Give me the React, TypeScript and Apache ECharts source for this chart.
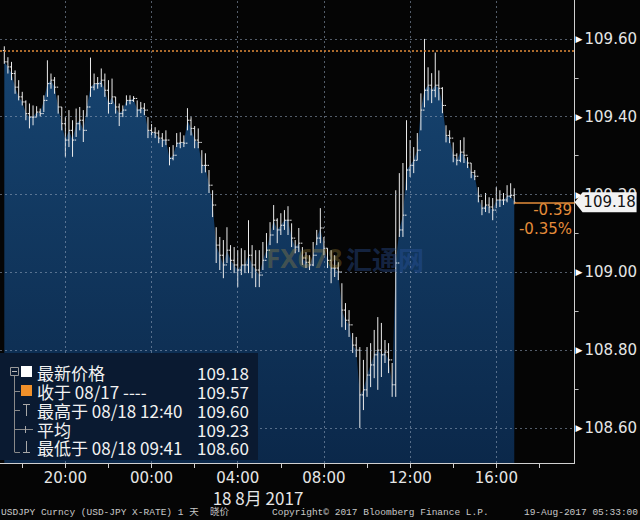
import React, { useEffect, useRef } from "react";
import * as echarts from "echarts";

// USDJPY 10-minute bars, 17 Aug 17:10 -> 18 Aug 16:50 (minutes counted from 17 Aug 17:00)
const FIRST_BAR_MIN = 10;
const BAR_STEP_MIN = 10;
const PREV_CLOSE = 109.57;
const LAST_PRICE = 109.18;
const CHANGE_TEXT = "-0.39";
const CHANGE_PCT_TEXT = "-0.35%";

const barHigh = [
  109.581, 109.553, 109.541, 109.519, 109.494, 109.464, 109.442, 109.434, 109.429, 109.427,
  109.421, 109.455, 109.545, 109.511, 109.502, 109.455, 109.425, 109.399, 109.417, 109.391,
  109.421, 109.425, 109.417, 109.455, 109.552, 109.511, 109.502, 109.524, 109.511, 109.494,
  109.498, 109.451, 109.434, 109.429, 109.455, 109.455,
  109.453, 109.442, 109.438, 109.435, 109.399, 109.381, 109.373, 109.365, 109.358, 109.365,
  109.322, 109.327, 109.358, 109.360, 109.352, 109.422, 109.399, 109.376, 109.370, 109.314,
  109.306, 109.263, 109.211, 109.116, 109.091, 109.083, 109.116, 109.070, 109.065, 109.057,
  109.062, 109.057, 109.134, 109.070, 109.057,
  109.057, 109.078, 109.101, 109.129, 109.173, 109.139, 109.152, 109.160, 109.170, 109.126,
  109.083, 109.114, 109.065, 109.052, 109.044, 109.078, 109.109, 109.165, 109.091, 109.062,
  109.057, 109.044, 109.026, 108.972, 108.921, 108.903, 108.844, 108.834, 108.808, 108.775,
  108.808, 108.818, 108.852, 108.885,
  108.870, 108.826, 108.818, 108.767, 109.211, 109.255, 109.281, 109.391, 109.340, 109.322,
  109.358, 109.460, 109.600, 109.527, 109.512, 109.565, 109.519, 109.476, 109.378, 109.365,
  109.334, 109.306, 109.340, 109.347, 109.296, 109.281, 109.263, 109.219, 109.186, 109.204,
  109.193, 109.191, 109.219, 109.211, 109.204, 109.224, 109.229, 109.216,
];

const barLow = [
  109.536, 109.511, 109.494, 109.459, 109.442, 109.429, 109.391, 109.370, 109.378, 109.399,
  109.401, 109.412, 109.451, 109.472, 109.459, 109.408, 109.365, 109.297, 109.322, 109.297,
  109.348, 109.365, 109.335, 109.399, 109.451, 109.468, 109.472, 109.476, 109.451, 109.408,
  109.434, 109.408, 109.376, 109.399, 109.429, 109.432,
  109.438, 109.399, 109.409, 109.404, 109.345, 109.352, 109.345, 109.332, 109.322, 109.327,
  109.275, 109.288, 109.322, 109.319, 109.322, 109.365, 109.352, 109.319, 109.319, 109.255,
  109.257, 109.204, 109.142, 109.024, 109.006, 108.985, 109.024, 109.006, 108.998, 108.962,
  108.993, 108.998, 108.998, 108.985, 108.962,
  108.962, 109.006, 109.037, 109.070, 109.109, 109.075, 109.096, 109.109, 109.096, 109.065,
  109.049, 109.052, 109.019, 109.011, 109.006, 109.016, 109.070, 109.075, 109.044, 109.011,
  108.972, 108.988, 108.980, 108.859, 108.852, 108.834, 108.793, 108.782, 108.600, 108.646,
  108.680, 108.705, 108.728, 108.698,
  108.731, 108.767, 108.741, 108.680, 108.680, 109.091, 109.091, 109.211, 109.245, 109.255,
  109.288, 109.365, 109.424, 109.442, 109.435, 109.450, 109.442, 109.409, 109.334, 109.332,
  109.283, 109.275, 109.283, 109.281, 109.268, 109.242, 109.237, 109.180, 109.147, 109.155,
  109.152, 109.134, 109.165, 109.168, 109.173, 109.180, 109.191, 109.175,
];

const barClose = [
  109.541, 109.528, 109.511, 109.476, 109.451, 109.438, 109.408, 109.399, 109.399, 109.412,
  109.408, 109.442, 109.485, 109.494, 109.476, 109.425, 109.382, 109.340, 109.365, 109.340,
  109.382, 109.391, 109.365, 109.425, 109.476, 109.485, 109.485, 109.494, 109.468, 109.434,
  109.451, 109.425, 109.408, 109.417, 109.442, 109.442,
  109.447, 109.417, 109.422, 109.417, 109.365, 109.360, 109.358, 109.345, 109.340, 109.340,
  109.293, 109.301, 109.332, 109.334, 109.332, 109.391, 109.370, 109.340, 109.334, 109.275,
  109.275, 109.224, 109.173, 109.070, 109.044, 109.019, 109.057, 109.031, 109.019, 109.006,
  109.019, 109.019, 109.044, 109.019, 109.006,
  108.993, 109.031, 109.057, 109.096, 109.134, 109.109, 109.121, 109.134, 109.134, 109.088,
  109.065, 109.075, 109.037, 109.026, 109.019, 109.044, 109.088, 109.114, 109.062, 109.031,
  109.011, 109.011, 109.001, 108.903, 108.877, 108.865, 108.813, 108.800, 108.685, 108.698,
  108.736, 108.762, 108.788, 108.800,
  108.788, 108.795, 108.775, 108.711, 109.024, 109.109, 109.147, 109.263, 109.275, 109.288,
  109.314, 109.417, 109.468, 109.481, 109.468, 109.481, 109.473, 109.429, 109.352, 109.345,
  109.301, 109.288, 109.309, 109.301, 109.281, 109.257, 109.247, 109.196, 109.165, 109.173,
  109.168, 109.160, 109.186, 109.186, 109.186, 109.196, 109.198, 109.180,
];

const X_MIN = -2;
const X_MAX = 1598;
const xLabelValues = [180, 420, 660, 900, 1140, 1380];
const xLabelTexts = ["20:00", "00:00", "04:00", "08:00", "12:00", "16:00"];
const xTickValues = [60, 180, 300, 420, 540, 660, 780, 900, 1020, 1140, 1260, 1380, 1500];
const Y_MIN = 108.51;
const Y_MAX = 109.7;
const yLabelValues = [108.6, 108.8, 109.0, 109.2, 109.4, 109.6];
const yMinorTicks = [108.7, 108.9, 109.1, 109.3, 109.5];

const dateLabel = "18 8月 2017";
const legendLabels = ["最新价格", "收于 08/17 ----", "最高于 08/18 12:40", "平均", "最低于 08/18 09:41"];
const legendValues = ["109.18", "109.57", "109.60", "109.23", "108.60"];
const footerLeft = "USDJPY Curncy (USD-JPY X-RATE) 1 天  晓价";
const footerMid = "Copyright© 2017 Bloomberg Finance L.P.";
const footerRight = "19-Aug-2017 05:33:00";

const ORANGE = "#e48c3a";
const GRID = "rgba(150,165,190,0.55)";
const CJK = '"Noto Sans CJK SC", "Noto Sans", sans-serif';

function txt(text: string, x: number, y: number, font: string, fill: string, align = "left", z = 110, lineHeight?: number) {
  const style: any = { text, font, fill, align, textAlign: align, verticalAlign: "middle", textVerticalAlign: "middle" };
  if (lineHeight) style.lineHeight = lineHeight;
  return { type: "text", z, x, y, style };
}
function ln(x1: number, y1: number, x2: number, y2: number, stroke: string, z = 110) {
  return { type: "line", z, shape: { x1, y1, x2, y2 }, style: { stroke, lineWidth: 1 } };
}

export default function App() {
  const ref = useRef<HTMLDivElement>(null);

  useEffect(() => {
    if (!ref.current) return;
    const chart = echarts.init(ref.current, null, { renderer: "svg" });
    const times = barClose.map((_, i) => FIRST_BAR_MIN + BAR_STEP_MIN * i);
    const bars = barClose.map((c, i) => [times[i], i === 0 ? PREV_CLOSE : barClose[i - 1], c, barLow[i], barHigh[i]]);
    const area = barClose.map((c, i) => [times[i], c]);
    const lastT = times[times.length - 1];

    const rowY = [372, 391, 410, 429, 447];
    const legendGraphics: any[] = [
      { type: "rect", z: 100, shape: { x: 0, y: 353, width: 258, height: 107 }, style: { fill: "#0a1a31" } },
      ln(14.5, 376, 14.5, 452, "#8a8a8a"),
      { type: "rect", z: 110, shape: { x: 10.5, y: 367.5, width: 8, height: 8 }, style: { fill: "#0a1a31", stroke: "#9a9a9a", lineWidth: 1 } },
      ln(12, 371.5, 17, 371.5, "#bbbbbb"),
      { type: "rect", z: 110, shape: { x: 21, y: 366, width: 11, height: 11 }, style: { fill: "#ffffff" } },
      ln(14.5, rowY[1] + 0.5, 20, rowY[1] + 0.5, "#8a8a8a"),
      { type: "rect", z: 110, shape: { x: 21, y: 385, width: 11, height: 11 }, style: { fill: "#f0902a" } },
      ln(14.5, rowY[2] + 0.5, 20, rowY[2] + 0.5, "#8a8a8a"),
      ln(23, 404.5, 30, 404.5, "#a8a8a8"),
      ln(26.5, 404.5, 26.5, 416, "#a8a8a8"),
      ln(14.5, rowY[3] + 0.5, 33, rowY[3] + 0.5, "#8a8a8a"),
      ln(25.5, 426, 25.5, 433, "#a8a8a8"),
      ln(14.5, 452.5, 20, 452.5, "#8a8a8a"),
      ln(26.5, 441, 26.5, 452.5, "#a8a8a8"),
      ln(23, 452.5, 30, 452.5, "#a8a8a8"),
    ];
    legendLabels.forEach((l, i) => {
      legendGraphics.push(txt(l, 37, rowY[i], `17px ${CJK}`, "#f2f2f2", "left", 110, 17));
      legendGraphics.push(txt(legendValues[i], 249, rowY[i], `17px ${CJK}`, "#f2f2f2", "right", 110, 17));
    });

    const gridLines = [
      ...yLabelValues.map((v) => ({ yAxis: v, lineStyle: { color: GRID, type: [2, 3], width: 1 } })),
      ...xLabelValues.map((v) => ({ xAxis: v, lineStyle: { color: GRID, type: [2, 3], width: 1 } })),
      { yAxis: PREV_CLOSE, lineStyle: { color: ORANGE, type: [2, 2], width: 1.5 } },
      [
        { coord: [lastT, LAST_PRICE], lineStyle: { color: ORANGE, type: "solid", width: 1.5 } },
        { coord: [X_MAX, LAST_PRICE] },
      ],
    ];

    chart.setOption({
      animation: false,
      backgroundColor: "#050505",
      grid: { left: 0, right: 65, top: 0, bottom: 57, containLabel: false },
      xAxis: {
        type: "value",
        min: X_MIN,
        max: X_MAX,
        axisLine: { show: true, onZero: false, lineStyle: { color: "#d0d0d0", width: 1 } },
        axisTick: { show: true, customValues: xTickValues, length: 5, lineStyle: { color: "#d0d0d0" } },
        axisLabel: {
          customValues: xLabelValues,
          formatter: (v: number) => {
            const k = xLabelValues.findIndex((x) => Math.abs(x - v) < 1e-6);
            return k >= 0 ? xLabelTexts[k] : "";
          },
          color: "#e6e6e6",
          fontSize: 15,
          fontFamily: "DejaVu Sans",
          margin: 7,
        },
        splitLine: { show: false },
      },
      yAxis: {
        type: "value",
        position: "right",
        min: Y_MIN,
        max: Y_MAX,
        axisLine: { show: true, onZero: false, lineStyle: { color: "#d0d0d0", width: 1 } },
        axisTick: { show: true, customValues: yMinorTicks, length: 4, lineStyle: { color: "#bdbdbd" } },
        axisLabel: {
          customValues: yLabelValues,
          formatter: (v: number) => `{t|▶}{v|${v.toFixed(2)}}`,
          rich: {
            t: { fontSize: 9, color: "#ffffff", padding: [0, 2, 0, 0], fontFamily: "DejaVu Sans" },
            v: { fontSize: 15, color: "#e6e6e6", fontFamily: "DejaVu Sans" },
          },
          margin: 1,
        },
        splitLine: { show: false },
      },
      series: [
        {
          type: "line",
          data: area,
          symbol: "none",
          showSymbol: false,
          z: 1,
          lineStyle: { width: 0, opacity: 0 },
          areaStyle: {
            origin: "start",
            opacity: 1,
            color: new echarts.graphic.LinearGradient(0, 0, 0, 1, [
              { offset: 0, color: "#16436f" },
              { offset: 1, color: "#0b284a" },
            ]),
          },
          markLine: {
            silent: true,
            symbol: ["none", "none"],
            label: { show: false },
            data: gridLines,
          },
          markPoint: {
            silent: true,
            symbol: "path://M0,10 L8,0 L62,0 L62,20 L8,20 Z",
            symbolSize: [62, 20],
            symbolKeepAspect: false,
            symbolOffset: [31, 0],
            itemStyle: { color: "#f2f2f2" },
            label: {
              show: true,
              formatter: LAST_PRICE.toFixed(2),
              color: "#111111",
              fontSize: 15,
              fontFamily: "DejaVu Sans",
              offset: [4, 0],
            },
            data: [{ coord: [X_MAX, LAST_PRICE], value: LAST_PRICE }],
          },
        },
        {
          type: "custom",
          data: bars,
          encode: { x: 0, y: [1, 2, 3, 4] },
          z: 3,
          renderItem: (_params: any, api: any) => {
            const t = api.value(0);
            const pO = api.coord([t, api.value(1)]);
            const pC = api.coord([t, api.value(2)]);
            const pL = api.coord([t, api.value(3)]);
            const pH = api.coord([t, api.value(4)]);
            const st = { stroke: "#ececec", lineWidth: 1 };
            return {
              type: "group",
              children: [
                { type: "line", shape: { x1: pL[0], y1: pL[1], x2: pH[0], y2: pH[1] }, style: st },
                { type: "line", shape: { x1: pO[0] - 1.5, y1: pO[1], x2: pO[0], y2: pO[1] }, style: st },
                { type: "line", shape: { x1: pC[0], y1: pC[1], x2: pC[0] + 1.5, y2: pC[1] }, style: st },
              ],
            };
          },
        },
      ],
      graphic: [
        txt("FX678", 266, 258, 'bold 26px "Noto Sans"', "rgba(175,145,60,0.32)", "left", 50),
        txt("汇通网", 346, 258, `bold 26px ${CJK}`, "rgba(45,85,160,0.4)", "left", 50),
        txt(CHANGE_TEXT, 572, 210, '15px "DejaVu Sans"', ORANGE, "right", 110, 17),
        txt(CHANGE_PCT_TEXT, 572, 229, '15px "DejaVu Sans"', ORANGE, "right", 110, 17),
        ...legendGraphics,
        txt(dateLabel, 258, 497, `17px ${CJK}`, "#e6e6e6", "center", 110, 18),
        txt(footerLeft, 1, 512, `9.5px "Liberation Mono", ${CJK}`, "#c8c8c8", "left", 110, 11),
        txt(footerMid, 272, 512, `9.5px "Liberation Mono", ${CJK}`, "#c8c8c8", "left", 110, 11),
        txt(footerRight, 638, 512, `9.5px "Liberation Mono", ${CJK}`, "#c8c8c8", "right", 110, 11),
      ],
    });

    return () => chart.dispose();
  }, []);

  return <div ref={ref} style={{ position: "fixed", left: 0, top: 0, width: 640, height: 520 }} />;
}
